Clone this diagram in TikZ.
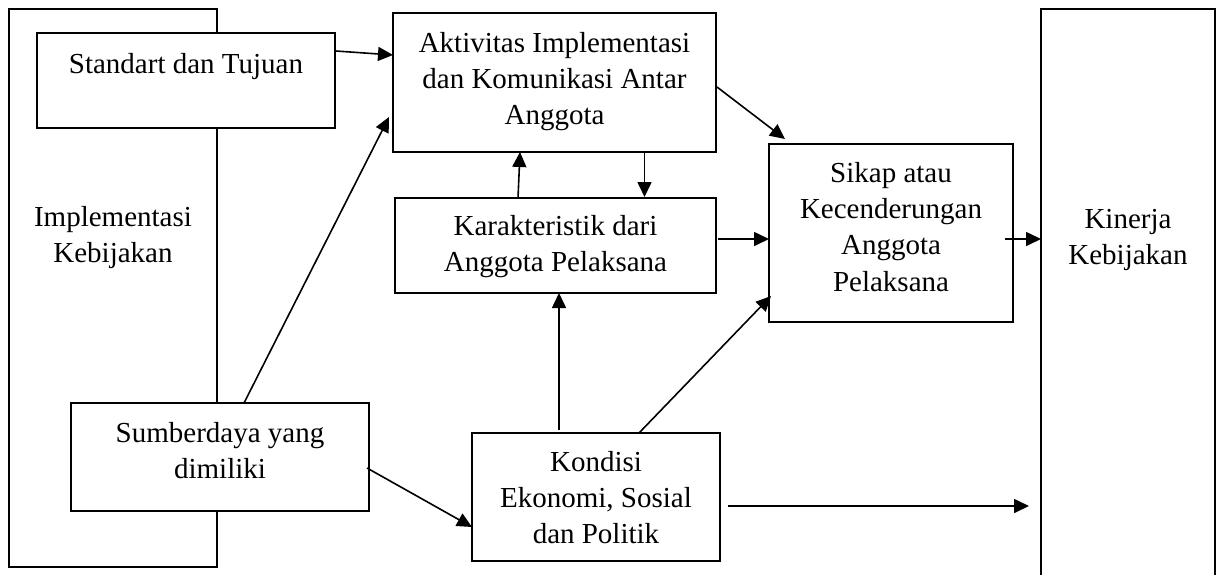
\documentclass[tikz,border=0pt]{standalone}
\usepackage{fontspec}
\setmainfont{Liberation Serif}
\usetikzlibrary{arrows.meta,fit}
% centred lines whose baseline is that of the first line
\newcommand\boxlines[1]{\begin{tabular}[t]{@{}c@{}}#1\end{tabular}}

\begin{document}
\begin{tikzpicture}[x=0.5pt,y=-0.5pt,
  font=\fontsize{14.5}{18.2}\selectfont,
  box/.style={draw, line width=1pt, fill=white, inner sep=0pt, outer sep=0pt},
  txt/.style={anchor=base, inner sep=0pt},
  link/.style={line width=0.8pt, -{Triangle[length=7.5pt,width=7pt]}}]
\useasboundingbox (0,0) rectangle (1220,574);
\fill[white] (0,0) rectangle (1220,574);

% frames
\node[box, fit={(9,9) (217,567)}] (imp) {};
\node[box, fit={(1041,9) (1215,600)}] (kin) {};

% boxes
\node[box, fit={(37,33) (335,128)}] (std) {};
\node[box, fit={(393,13) (716,152)}] (akt) {};
\node[box, fit={(395,198) (716,293)}] (kar) {};
\node[box, fit={(769,144) (1013,322)}] (sik) {};
\node[box, fit={(71,403) (369,511)}] (sum) {};
\node[box, fit={(472,433) (720,561)}] (kon) {};

% texts
\node[txt] (imp-t) at (113,226) {\boxlines{Implementasi\\Kebijakan}};
\node[txt] (kin-t) at (1128,228) {\boxlines{Kinerja\\Kebijakan}};
\node[txt] (std-t) at (186,73) {Standart dan Tujuan};
\node[txt] (akt-t) at (554.5,52) {\boxlines{Aktivitas Implementasi\\dan Komunikasi Antar\\Anggota}};
\node[txt] (kar-t) at (555.5,235) {\boxlines{Karakteristik dari\\Anggota Pelaksana}};
\node[txt] (sik-t) at (891,182) {\boxlines{Sikap atau\\Kecenderungan\\Anggota\\Pelaksana}};
\node[txt] (sum-t) at (220,442) {\boxlines{Sumberdaya yang\\dimiliki}};
\node[txt] (kon-t) at (596,471) {\boxlines{Kondisi\\Ekonomi, Sosial\\dan Politik}};

% connectors
\draw[link] ([xshift=0.5pt,yshift=14.75pt]std.east) -- ([yshift=13.75pt]akt.west);
\draw[link] ([xshift=12pt]sum.north) -- ([xshift=-2pt,yshift=-17.25pt]akt.west);
\draw[link] ([xshift=-18.75pt]kar.north) -- ([xshift=-17.25pt]akt.south);
\draw[link] ([xshift=45pt]akt.south) -- ([xshift=44.5pt,yshift=0.5pt]kar.north);
\draw[link] ([xshift=0.5pt,yshift=-2.25pt]akt.east) -- ([xshift=8pt,yshift=2.5pt]sik.north west);
\draw[link] ([xshift=1pt,yshift=3.25pt]kar.east) -- ([yshift=-3pt]sik.west);
\draw[link] ([xshift=-4pt,yshift=-3pt]sik.east) -- ([yshift=32.75pt]kin.west);
\draw[link] ([xshift=-18.5pt,yshift=1.5pt]kon.north) -- ([xshift=1.75pt]kar.south);
\draw[link] ([xshift=21.5pt]kon.north) -- ([xshift=1pt,yshift=13pt]sik.south west);
\draw[link] ([xshift=4pt,yshift=-4.5pt]kon.east) -- ([xshift=-6pt,yshift=-100.75pt]kin.west);
\draw[link] ([xshift=-1pt,yshift=-5.5pt]sum.east) -- ([yshift=-15pt]kon.west);
\end{tikzpicture}
\end{document}
